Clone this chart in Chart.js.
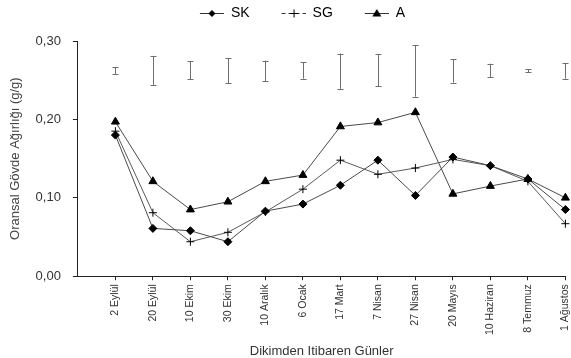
<!DOCTYPE html>
<html>
<head>
<meta charset="utf-8">
<script src="https://cdn.jsdelivr.net/npm/chart.js@4.4.0/dist/chart.umd.min.js"></script>
<style>
  html, body { margin: 0; padding: 0; background: #fff; }
</style>
</head>
<body>
<canvas id="grafik" width="571" height="358"></canvas>
<script>
// Dikimden itibaren günler (kategori etiketleri)
const gunler = ['2 Eylül', '20 Eylül', '10 Ekim', '30 Ekim', '10 Aralık', '6 Ocak', '17 Mart',
                '7 Nisan', '27 Nisan', '20 Mayıs', '10 Haziran', '8 Temmuz', '1 Ağustos'];

// Oransal gövde ağırlığı (g/g)
const SK = [0.180, 0.061, 0.058, 0.044, 0.083, 0.092, 0.116, 0.148, 0.103, 0.152, 0.141, 0.124, 0.085];
const SG = [0.185, 0.081, 0.044, 0.056, 0.082, 0.111, 0.148, 0.130, 0.138, 0.149, 0.141, 0.121, 0.067];
const A  = [0.197, 0.121, 0.085, 0.095, 0.121, 0.129, 0.191, 0.196, 0.209, 0.105, 0.115, 0.124, 0.100];

// üstteki hata çubukları (alt / üst)
const hataAlt = [0.258, 0.244, 0.251, 0.246, 0.249, 0.252, 0.239, 0.242, 0.229, 0.247, 0.254, 0.260, 0.252];
const hataUst = [0.267, 0.281, 0.274, 0.278, 0.275, 0.273, 0.284, 0.283, 0.295, 0.277, 0.271, 0.264, 0.272];

const yTicks = [0, 0.1, 0.2, 0.3];

const yazi = 'Liberation Sans, Arial, sans-serif';

function noktalar(dizi) {
    return dizi.map((v, i) => ({ x: i + 1, y: v }));
}

// lejant için çizgi + işaret simgesi (solda boşluk bırakılıyor)
const BOSLUK = 26;
function simge(stil, kesikli) {
    const c = document.createElement('canvas');
    c.width = BOSLUK + 24; c.height = 10;
    const g = c.getContext('2d');
    const m = BOSLUK + 12;
    g.strokeStyle = '#333';
    g.lineWidth = 1;
    if (kesikli) g.setLineDash([4, 3]);
    g.beginPath(); g.moveTo(BOSLUK, 5.5); g.lineTo(BOSLUK + 24, 5.5); g.stroke();
    g.setLineDash([]);
    g.fillStyle = '#000';
    g.strokeStyle = '#000';
    if (stil === 'rectRot') {
        g.beginPath(); g.moveTo(m, 2); g.lineTo(m + 3.5, 5.5); g.lineTo(m, 9); g.lineTo(m - 3.5, 5.5); g.closePath(); g.fill();
    } else if (stil === 'cross') {
        g.beginPath(); g.moveTo(m + 0.5, 1.5); g.lineTo(m + 0.5, 9.5); g.moveTo(m - 3.5, 5.5); g.lineTo(m + 4.5, 5.5); g.stroke();
    } else {
        g.beginPath(); g.moveTo(m, 1); g.lineTo(m + 4.5, 8.5); g.lineTo(m - 4.5, 8.5); g.closePath(); g.fill();
    }
    return c;
}

const simgeler = [simge('rectRot', false), simge('cross', true), simge('triangle', false)];

// lejantın altına biraz boşluk
const lejantBoslugu = {
    id: 'lejantBoslugu',
    beforeInit(chart) {
        const eskiFit = chart.legend.fit;
        chart.legend.fit = function () {
            eskiFit.bind(chart.legend)();
            this.height += 11;
        };
    }
};

// hata çubuklarını ölçeklerden çizen eklenti
const hataCubuklari = {
    id: 'hataCubuklari',
    afterDatasetsDraw(chart) {
        const ctx = chart.ctx;
        const xs = chart.scales.x, ys = chart.scales.y;
        ctx.save();
        ctx.strokeStyle = '#6f6f6f';
        ctx.lineWidth = 1;
        hataAlt.forEach((alt, i) => {
            const x = Math.round(xs.getPixelForValue(i + 1)) + 0.5;
            const y1 = ys.getPixelForValue(alt);
            const y2 = ys.getPixelForValue(hataUst[i]);
            ctx.beginPath();
            ctx.moveTo(x, y1); ctx.lineTo(x, y2);
            ctx.moveTo(x - 3, Math.round(y1) + 0.5); ctx.lineTo(x + 3, Math.round(y1) + 0.5);
            ctx.moveTo(x - 3, Math.round(y2) + 0.5); ctx.lineTo(x + 3, Math.round(y2) + 0.5);
            ctx.stroke();
        });
        ctx.restore();
    }
};

const config = {
    type: 'line',
    data: {
        datasets: [
            {
                label: 'SK', data: noktalar(SK),
                borderColor: '#4a4a4a', borderWidth: 1,
                pointStyle: 'rectRot', pointRadius: 4,
                pointBackgroundColor: '#000', pointBorderColor: '#000',
                tension: 0, clip: false
            },
            {
                label: 'SG', data: noktalar(SG),
                borderColor: '#5a5a5a', borderWidth: 1,
                pointStyle: 'cross', pointRadius: 4,
                pointBorderColor: '#000', pointBorderWidth: 1,
                tension: 0, clip: false
            },
            {
                label: 'A', data: noktalar(A),
                borderColor: '#4a4a4a', borderWidth: 1,
                pointStyle: 'triangle', pointRadius: 4.6,
                pointBackgroundColor: '#000', pointBorderColor: '#000',
                tension: 0, clip: false
            }
        ]
    },
    options: {
        responsive: false,
        animation: false,
        devicePixelRatio: 1,
        layout: { padding: { top: 0, right: 0, left: 8, bottom: 0 } },
        plugins: {
            tooltip: { enabled: false },
            legend: {
                position: 'top',
                labels: {
                    usePointStyle: true,
                    pointStyleWidth: BOSLUK + 24,
                    boxHeight: 10,
                    padding: 6,
                    color: '#333',
                    font: { family: yazi, size: 14 },
                    generateLabels(chart) {
                        return chart.data.datasets.map((ds, i) => ({
                            text: ds.label,
                            pointStyle: simgeler[i],
                            fillStyle: '#000',
                            strokeStyle: '#000',
                            lineWidth: 0,
                            hidden: false,
                            datasetIndex: i
                        }));
                    }
                }
            }
        },
        scales: {
            x: {
                type: 'linear',
                min: 0, max: 13,
                afterFit: (ax) => { ax.paddingRight = 4; },
                grid: {
                    drawOnChartArea: false,
                    tickLength: 4,
                    tickColor: (c) => (c.tick && c.tick.value === 0) ? 'rgba(0,0,0,0)' : '#222'
                },
                border: { color: '#222' },
                ticks: {
                    stepSize: 1,
                    autoSkip: false,
                    minRotation: 90, maxRotation: 90,
                    padding: 4,
                    color: '#333',
                    font: { family: yazi, size: 10.5 },
                    callback: (v) => (v >= 1 && v <= gunler.length) ? gunler[v - 1] : ''
                },
                title: {
                    display: true,
                    text: 'Dikimden Itibaren Günler',
                    color: '#333',
                    font: { family: yazi, size: 13, lineHeight: 1 },
                    padding: { top: 6, bottom: 0 }
                }
            },
            y: {
                min: 0, max: 0.3,
                afterBuildTicks: (ax) => { ax.ticks = yTicks.map(v => ({ value: v })); },
                grid: { drawOnChartArea: false, tickLength: 5, tickColor: '#222' },
                border: { color: '#222' },
                ticks: {
                    padding: 12,
                    color: '#333',
                    font: { family: yazi, size: 13 },
                    callback: (v) => v.toFixed(2).replace('.', ',')
                },
                title: {
                    display: true,
                    text: 'Oransal Gövde Ağırlığı (g/g)',
                    color: '#444',
                    font: { family: yazi, size: 13 },
                    padding: { top: 0, bottom: 0 }
                }
            }
        }
    },
    plugins: [lejantBoslugu, hataCubuklari]
};

const grafik = new Chart(document.getElementById('grafik'), config);
</script>
</body>
</html>
